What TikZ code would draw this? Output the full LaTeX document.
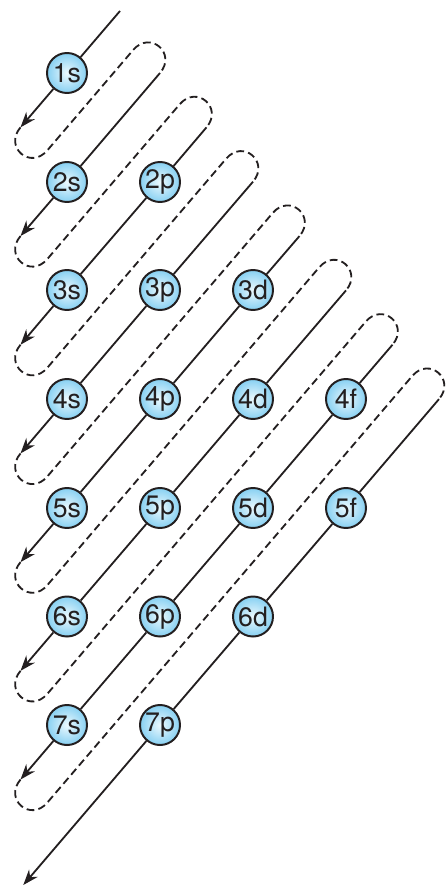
\documentclass[tikz,border=0pt]{standalone}
\usepackage{fontspec}
\setsansfont{TeX Gyre Heros}
\usetikzlibrary{arrows.meta}
\definecolor{orbinner}{RGB}{236,249,254}
\definecolor{orbouter}{RGB}{135,208,242}
\definecolor{inkline}{RGB}{35,31,32}

\begin{document}
\begin{tikzpicture}[
    x=0.025cm,
    y=-0.025cm,
    orbital/.style={
        circle,
        draw=inkline,
        line width=1.4pt,
        inner color=orbinner,
        outer color=orbouter,
        minimum size=1.0cm,
        inner sep=0pt,
        font=\sffamily\fontsize{19}{22}\selectfont,
        text=inkline
    },
    fillline/.style={-{Stealth[length=11pt,width=8pt]}, line width=1.3pt, inkline},
    dashline/.style={line width=1.3pt, inkline, dash pattern=on 5.5pt off 3pt}
]

\useasboundingbox (0,0) rectangle (446,892);

\node[orbital] (s1) at (67,73) {1s};

\node[orbital] (s2) at (67,182) {2s};
\node[orbital] (p2) at (160,182) {2p};

\node[orbital] (s3) at (67,290) {3s};
\node[orbital] (p3) at (160,290) {3p};
\node[orbital] (d3) at (253,290) {3d};

\node[orbital] (s4) at (67,399) {4s};
\node[orbital] (p4) at (160,399) {4p};
\node[orbital] (d4) at (253,399) {4d};
\node[orbital] (f4) at (346,399) {4f};

\node[orbital] (s5) at (67,508) {5s};
\node[orbital] (p5) at (160,508) {5p};
\node[orbital] (d5) at (253,508) {5d};
\node[orbital] (f5) at (346,508) {5f};

\node[orbital] (s6) at (67,616.5) {6s};
\node[orbital] (p6) at (160,616.5) {6p};
\node[orbital] (d6) at (253,616.5) {6d};

\node[orbital] (s7) at (67,725) {7s};
\node[orbital] (p7) at (160,725) {7p};

\coordinate (t1) at (120,11);
\foreach \k in {2,...,8}
    \coordinate (t\k) at ({67+46.5*\k},{-35.7+54.35*\k});
\foreach \k in {1,...,7} {
    \coordinate (b\k) at (20.5,{18.65+108.7*\k});
    \coordinate (lo\k) at (47.3,{41.7+108.7*\k});
    \coordinate (hi\k) at ({86.7+46.5*\k},{-4.4+54.35*\k});
}
\coordinate (b8) at (23.3,885);

\foreach \k [evaluate=\k as \kk using int(\k+1)] in {1,...,7}
    \draw[dashline] (b\k) .. controls +(-16.9,19.8) and +(-16.9,19.8) .. (lo\k)
        -- (hi\k) .. controls +(16.9,-19.8) and +(16.9,-19.8) .. (t\kk);

\draw[fillline] (t1) -- (s1) -- (b1);
\draw[fillline] (t2) -- (s2) -- (b2);
\draw[fillline] (t3) -- (p2) -- (s3) -- (b3);
\draw[fillline] (t4) -- (p3) -- (s4) -- (b4);
\draw[fillline] (t5) -- (d3) -- (p4) -- (s5) -- (b5);
\draw[fillline] (t6) -- (d4) -- (p5) -- (s6) -- (b6);
\draw[fillline] (t7) -- (f4) -- (d5) -- (p6) -- (s7) -- (b7);
\draw[fillline] (t8) -- (f5) -- (d6) -- (p7) -- (b8);

\end{tikzpicture}
\end{document}
